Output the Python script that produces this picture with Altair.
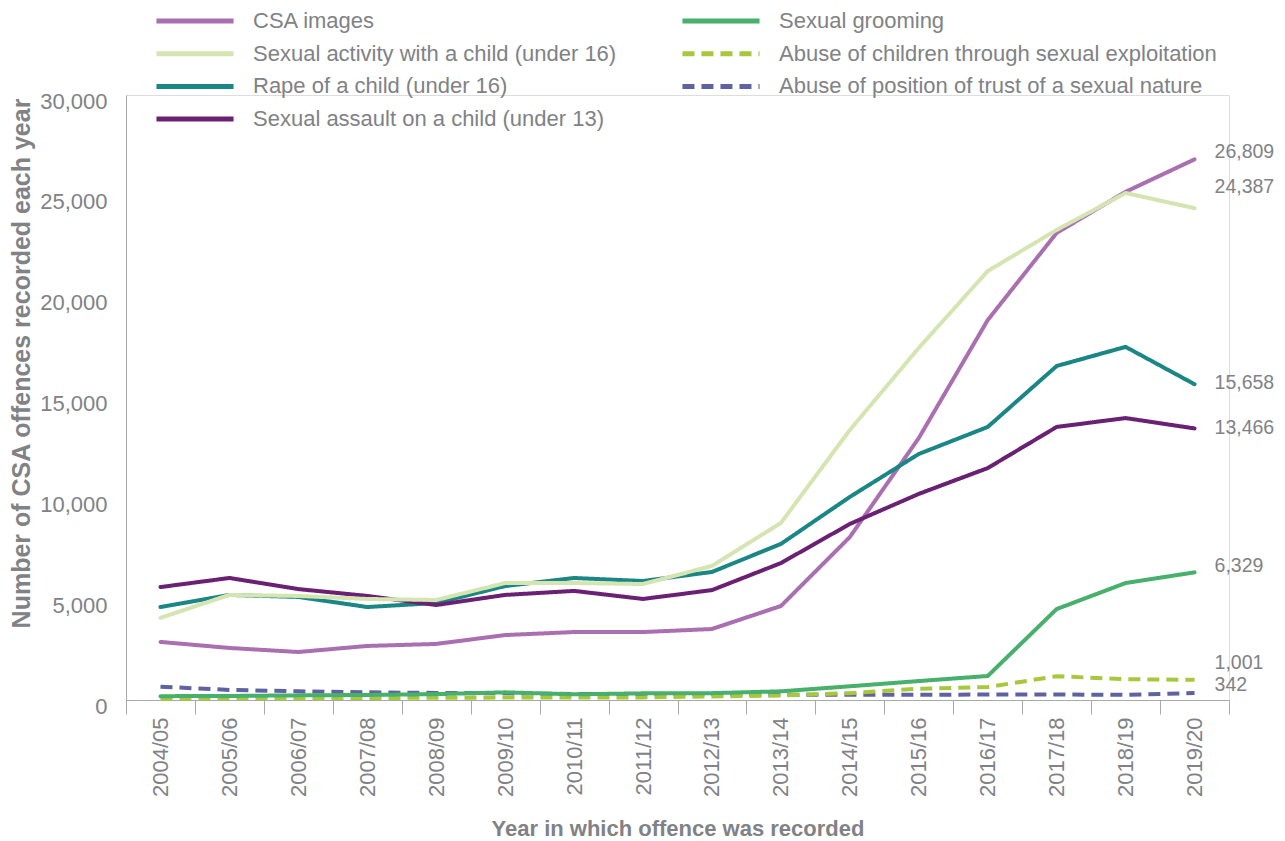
import altair as alt
import pandas as pd

years = ["2004/05", "2005/06", "2006/07", "2007/08", "2008/09", "2009/10", "2010/11", "2011/12",
         "2012/13", "2013/14", "2014/15", "2015/16", "2016/17", "2017/18", "2018/19", "2019/20"]

csa_images = [2880, 2580, 2380, 2680, 2780, 3220, 3370, 3370, 3520, 4660, 8080, 12990, 18840, 23160, 25200, 26809]
sexual_activity = [4070, 5210, 5160, 5010, 4960, 5800, 5800, 5750, 6650, 8780, 13390, 17460, 21270, 23310, 25140, 24387]
rape_child = [4610, 5210, 5110, 4610, 4810, 5650, 6050, 5900, 6350, 7740, 10070, 12200, 13540, 16560, 17510, 15658]
sexual_assault = [5600, 6050, 5500, 5160, 4710, 5210, 5410, 5010, 5450, 6790, 8730, 10220, 11500, 13540, 13980, 13466]
grooming = [190, 200, 230, 250, 290, 380, 280, 330, 340, 430, 680, 940, 1190, 4510, 5800, 6329]
exploitation = [60, 80, 90, 100, 110, 120, 120, 130, 175, 225, 340, 560, 640, 1180, 1030, 1001]
position_trust = [660, 500, 430, 380, 350, 330, 300, 290, 280, 260, 260, 260, 270, 270, 260, 342]

names = {
    "csa": "CSA images",
    "act": "Sexual activity with a child (under 16)",
    "rape": "Rape of a child (under 16)",
    "assault": "Sexual assault on a child (under 13)",
    "groom": "Sexual grooming",
    "expl": "Abuse of children through sexual exploitation",
    "trust": "Abuse of position of trust of a sexual nature",
}

# drawing (z) order
series_values = [
    ("trust", position_trust),
    ("expl", exploitation),
    ("groom", grooming),
    ("csa", csa_images),
    ("rape", rape_child),
    ("assault", sexual_assault),
    ("act", sexual_activity),
]

rows = []
for key, vals in series_values:
    for y, v in zip(years, vals):
        rows.append({"year": y, "series": names[key], "value": v})
df = pd.DataFrame(rows)

# legend order (filled column by column, 2 columns)
legend_order = [names[k] for k in ["csa", "act", "rape", "assault", "groom", "expl", "trust"]]
dashed_series = [names["expl"], names["trust"]]
colors = {
    names["csa"]: "#a96fb1",
    names["groom"]: "#46b06c",
    names["act"]: "#d5e5b1",
    names["expl"]: "#a7c83d",
    names["rape"]: "#1a8686",
    names["trust"]: "#5f62a0",
    names["assault"]: "#6b2173",
}
DASH = [12, 7]
dashes = {s: (DASH if s in dashed_series else [1, 0]) for s in legend_order}

GREY = "#808285"
FONT = "Liberation Sans"

x_enc = alt.X("year:N", sort=years,
              scale=alt.Scale(type="band", paddingInner=0, paddingOuter=0),
              axis=alt.Axis(title="Year in which offence was recorded", labelAngle=-90,
                            tickBand="extent", tickSize=14, labelPadding=3,
                            domainColor="#a7a9ac", tickColor="#a7a9ac",
                            labelFontSize=22, labelColor=GREY, labelFont=FONT,
                            titleFontSize=22, titleColor=GREY, titleFont=FONT,
                            titleFontWeight="bold", titlePadding=22, grid=False))

y_enc = alt.Y("value:Q",
              scale=alt.Scale(domain=[0, 30000], nice=False),
              axis=alt.Axis(title="Number of CSA offences recorded each year",
                            values=[0, 5000, 10000, 15000, 20000, 25000, 30000],
                            format=",d", ticks=False, labelPadding=19, labelOffset=6,
                            domainColor="#a7a9ac", grid=False,
                            labelFontSize=22, labelColor=GREY, labelFont=FONT,
                            titleFontSize=25, titleColor=GREY, titleFont=FONT,
                            titleFontWeight="bold", titleX=-92, titleY=268,
                            titleAngle=270, titleBaseline="bottom", titleAlign="center"))

legend = alt.Legend(title=None, orient="none", legendX=58, legendY=-85,
                    columns=2, columnPadding=55, rowPadding=10.7,
                    symbolType="M-6,0H6", symbolSize=165, symbolStrokeWidth=5,
                    labelFontSize=22, labelColor=GREY, labelFont=FONT,
                    labelOffset=47, labelLimit=600, padding=0)

color_enc = alt.Color("series:N",
                      scale=alt.Scale(domain=legend_order, range=[colors[s] for s in legend_order]),
                      legend=legend)
dash_enc = alt.StrokeDash("series:N",
                          scale=alt.Scale(domain=legend_order, range=[dashes[s] for s in legend_order]),
                          legend=legend)

base = alt.Chart(df).encode(x=x_enc, y=y_enc, color=color_enc, strokeDash=dash_enc, detail="series:N")

dashed_lines = base.transform_filter(
    alt.FieldOneOfPredicate(field="series", oneOf=dashed_series)
).mark_line(strokeWidth=4, strokeCap="butt", strokeJoin="round")

solid_lines = base.transform_filter(
    ~alt.FieldOneOfPredicate(field="series", oneOf=dashed_series)
).mark_line(strokeWidth=4, strokeCap="round", strokeJoin="round")

# end labels
end_df = df[df["year"] == years[-1]].copy()
end_df["label"] = end_df["value"].map(lambda v: f"{v:,}")
label_dy = {
    names["csa"]: -7,
    names["act"]: -21,
    names["rape"]: -1,
    names["assault"]: 0,
    names["groom"]: -6,
    names["expl"]: -17,
    names["trust"]: -8,
}
label_layers = []
for s, d in label_dy.items():
    label_layers.append(
        alt.Chart(end_df).transform_filter(alt.datum.series == s)
        .mark_text(align="left", baseline="middle", dx=20, dy=d, fontSize=19.5, color=GREY, font=FONT)
        .encode(x=x_enc, y=y_enc, text="label:N")
    )

chart = alt.layer(dashed_lines, solid_lines, *label_layers).properties(
    width=1103, height=605, padding={"left": 0, "top": 2, "right": 0, "bottom": 0}
).configure_view(stroke=None).configure(font=FONT)

chart.save("out.html", embed_options={"renderer": "svg", "actions": False})
